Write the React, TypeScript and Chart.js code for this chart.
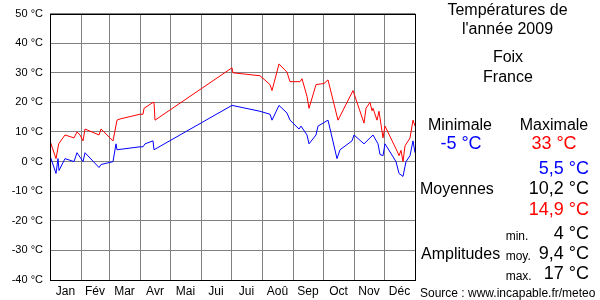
import React, { useEffect, useRef } from "react";
import { Chart, registerables } from "chart.js";

Chart.register(...registerables);

// Day-of-year positions and temperatures (°C)
const maxDays = [0, 6, 8.7, 15, 24, 27, 30, 33, 35, 49, 51, 63, 67, 70, 90, 93, 94, 103, 104, 105, 182, 183, 210, 220, 222, 229, 237, 240, 250, 252, 257, 259, 266, 274, 278, 288, 303, 314, 316, 320, 322, 323, 327, 329, 333, 335, 347, 349, 351, 353, 355, 360, 363, 365];
const maxTemps = [7, 1, 6, 9, 8, 10, 9, 7, 11, 9, 11, 7, 14, 14.4, 16, 16, 18, 20, 20, 14, 31.7, 30, 29, 26, 24, 33, 30.2, 27, 27, 28, 22, 18, 26, 26.4, 27.6, 14, 24, 13, 18, 20, 17.2, 18, 14, 17, 8, 12, 3.6, 2, 3.8, 0, 5.3, 8, 14, 12];

const minDays = [0, 6, 8, 9, 15, 24, 27, 33, 35, 49, 51, 63, 66, 67, 90, 93, 95, 103, 104, 182, 210, 220, 222, 229, 237, 240, 249, 251, 257, 259, 266, 268, 278, 287, 290, 302, 304, 314, 323, 328, 330, 333, 335, 346, 349, 353, 356, 360, 363, 365];
const minTemps = [2, -4, 1, -3, 1, 0, 3, 0, 3, -2, -1, 0, 6, 4, 5, 5, 6, 7, 4, 19, 17, 16, 14, 19, 16.4, 14, 11, 12, 9, 6, 9, 12, 14, 1, 4, 7, 9, 6, 9, 6, 2.4, 2, 6, 0, -4, -5, 0, 2, 7, 3];

const monthStarts = [0, 31, 59, 90, 120, 151, 181, 212, 243, 273, 304, 334, 365];
const monthMids = [15.5, 45, 74.5, 105, 135.5, 166, 196.5, 227.5, 258, 288.5, 319, 349.5];
const monthLabels = ["Jan", "Fév", "Mar", "Avr", "Mai", "Jui", "Jui", "Aoû", "Sep", "Oct", "Nov", "Déc"];

const yMin = -40;
const yMax = 50;
const yStep = 10;

const FONT = "'Liberation Sans', Arial, sans-serif";

const framePlugin = {
  id: "frame",
  afterDraw(chart: any) {
    const { ctx, chartArea } = chart;
    const l = Math.round(chartArea.left) + 0.5;
    const t = Math.round(chartArea.top) + 0.5;
    const r = Math.round(chartArea.right) + 0.5;
    const b = Math.round(chartArea.bottom) + 0.5;
    ctx.save();
    ctx.strokeStyle = "#000";
    ctx.lineWidth = 1;
    ctx.strokeRect(l, t, r - l, b - t);
    ctx.restore();
  },
};

type TProps = {
  x: number;
  y: number;
  align: "left" | "center" | "right";
  size: number;
  color?: string;
  children: React.ReactNode;
};

function T({ x, y, align, size, color = "#000", children }: TProps) {
  const lh = size + 4;
  const w = 220;
  let left = x;
  if (align === "center") left = x - w / 2;
  if (align === "right") left = x - w;
  return (
    <div
      style={{
        position: "absolute",
        left,
        top: y - lh / 2,
        width: w,
        height: lh,
        lineHeight: lh + "px",
        fontSize: size,
        fontFamily: FONT,
        color,
        textAlign: align,
        whiteSpace: "nowrap",
      }}
    >
      {children}
    </div>
  );
}

export default function App() {
  const canvasRef = useRef<HTMLCanvasElement | null>(null);

  useEffect(() => {
    document.body.style.margin = "0";
    const canvas = canvasRef.current;
    if (!canvas) return;
    const chart = new Chart(canvas, {
      type: "line",
      data: {
        datasets: [
          {
            label: "Maximale",
            data: maxDays.map((d, i) => ({ x: d, y: maxTemps[i] })),
            borderColor: "#ff0000",
            borderWidth: 1,
            pointRadius: 0,
            tension: 0,
            xAxisID: "x",
          },
          {
            label: "Minimale",
            data: minDays.map((d, i) => ({ x: d, y: minTemps[i] })),
            borderColor: "#0000ff",
            borderWidth: 1,
            pointRadius: 0,
            tension: 0,
            xAxisID: "x",
          },
        ],
      },
      options: {
        animation: false,
        responsive: false,
        maintainAspectRatio: false,
        layout: { padding: { left: 0, right: 185, top: 10, bottom: 0 } },
        plugins: {
          legend: { display: false },
          tooltip: { enabled: false },
        },
        scales: {
          x: {
            type: "linear",
            position: "bottom",
            min: 0,
            max: 365,
            afterBuildTicks: (axis: any) => {
              axis.ticks = monthStarts.map((v) => ({ value: v }));
            },
            afterFit: (axis: any) => {
              axis.height = 0;
            },
            ticks: { display: false },
            grid: { color: "#808080", lineWidth: 1, drawTicks: false },
            border: { display: false },
          },
          x2: {
            type: "linear",
            position: "bottom",
            min: 0,
            max: 365,
            afterBuildTicks: (axis: any) => {
              axis.ticks = monthMids.map((v) => ({ value: v }));
            },
            afterFit: (axis: any) => {
              axis.height = 20;
            },
            ticks: {
              autoSkip: false,
              maxRotation: 0,
              padding: 4,
              color: "#000",
              font: { family: FONT, size: 12 },
              callback: (_v: any, i: number) => monthLabels[i],
            },
            grid: { display: false, drawTicks: false },
            border: { display: false },
          },
          y: {
            type: "linear",
            min: yMin,
            max: yMax,
            afterFit: (axis: any) => {
              axis.width = 50;
            },
            ticks: {
              stepSize: yStep,
              padding: 7,
              color: "#000",
              font: { family: FONT, size: 11 },
              callback: (v: any) => `${v} °C`,
            },
            grid: { color: "#808080", lineWidth: 1, drawTicks: false },
            border: { display: false },
          },
        },
      },
      plugins: [framePlugin],
    });
    return () => chart.destroy();
  }, []);

  return (
    <div style={{ position: "relative", width: 600, height: 300, background: "#fff" }}>
      <canvas ref={canvasRef} width={600} height={300} style={{ position: "absolute", left: 0, top: 0, width: 600, height: 300 }} />
      <T x={507.5} y={9.5} align="center" size={16}>Températures de</T>
      <T x={507.5} y={29.2} align="center" size={16}>l'année 2009</T>
      <T x={508} y={56.8} align="center" size={16}>Foix</T>
      <T x={508} y={76.5} align="center" size={16}>France</T>
      <T x={460} y={124.5} align="center" size={16}>Minimale</T>
      <T x={554} y={124.5} align="center" size={16}>Maximale</T>
      <T x={461} y={143.3} align="center" size={18} color="#0000ff">-5 °C</T>
      <T x={554} y={143.3} align="center" size={18} color="#ff0000">33 °C</T>
      <T x={589} y={168.3} align="right" size={18} color="#0000ff">5,5 °C</T>
      <T x={420} y={189} align="left" size={16}>Moyennes</T>
      <T x={589} y={188.3} align="right" size={18}>10,2 °C</T>
      <T x={589} y={208.7} align="right" size={18} color="#ff0000">14,9 °C</T>
      <T x={505.7} y={235.7} align="left" size={12}>min.</T>
      <T x={589} y={233} align="right" size={18}>4 °C</T>
      <T x={421} y={254} align="left" size={16}>Amplitudes</T>
      <T x={505.7} y={255.7} align="left" size={12}>moy.</T>
      <T x={589} y={253.3} align="right" size={18}>9,4 °C</T>
      <T x={505.7} y={275.7} align="left" size={12}>max.</T>
      <T x={589} y={273.3} align="right" size={18}>17 °C</T>
      <T x={420} y={293.3} align="left" size={12}>Source : www.incapable.fr/meteo</T>
    </div>
  );
}
